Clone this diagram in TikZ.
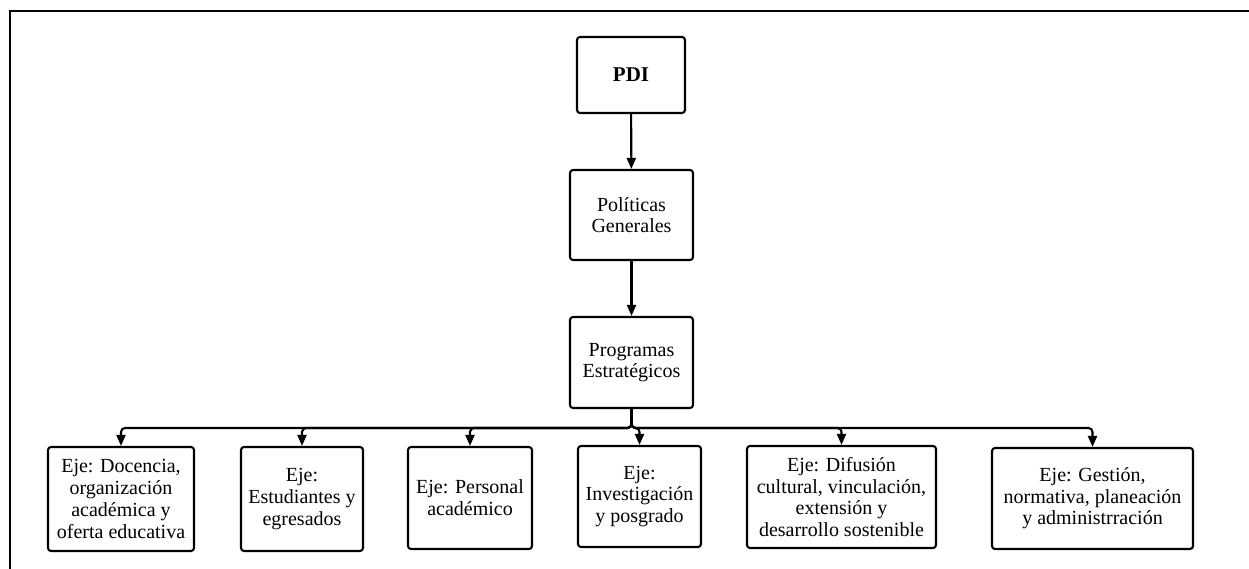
\documentclass[tikz,border=0pt]{standalone}
\usepackage{fontspec}
\setmainfont{Liberation Serif}
\usetikzlibrary{arrows.meta}
\tikzset{
  box/.style={draw, line width=2.1pt, rounded corners=3pt, align=center,
    inner sep=2pt, font=\fontsize{20}{21.7}\selectfont},
  conn/.style={line width=2.1pt, rounded corners=4pt,
    -{Triangle[width=9pt,length=11pt]}},
  frame/.style={line width=2pt}
}
\begin{document}
\begin{tikzpicture}[x=1pt,y=-1pt]
\useasboundingbox (0,0) rectangle (1249,569);
% page frame (top and left edges)
\draw[frame] (1249,11.5) -| (10,569);

% main chain
\node[box, minimum width=108pt, minimum height=76pt] (pdi) at (631,75)
  {\fontsize{21}{24}\selectfont\textbf{PDI}};
\node[box, minimum width=123pt, minimum height=90pt] (pol) at (631.5,215)
  {Políticas\\Generales};
\node[box, minimum width=123pt, minimum height=91pt] (prog) at (631.5,362.5)
  {Programas\\Estratégicos};

% axes
\node[box, minimum width=146pt, minimum height=104pt] (e1) at (121,499)
  {Eje: Docencia,\\organización\\académica y\\oferta educativa};
\node[box, minimum width=122pt, minimum height=104pt] (e2) at (302,499)
  {Eje:\\Estudiantes y\\egresados};
\node[box, minimum width=124pt, minimum height=102pt] (e3) at (470,498)
  {Eje: Personal\\académico};
\node[box, minimum width=123pt, minimum height=101pt] (e4) at (639.5,496.5)
  {Eje:\\Investigación\\y posgrado};
\node[box, minimum width=189pt, minimum height=102pt] (e5) at (841.5,497)
  {Eje: Difusión\\cultural, vinculación,\\extensión y\\desarrollo sostenible};
\node[box, minimum width=201pt, minimum height=101pt] (e6) at (1092.5,498.5)
  {Eje: Gestión,\\normativa, planeación\\y administrración};

\coordinate (bus) at (631.5,428);

\draw[conn] (pdi) -- (pol);
\draw[conn] (pol) -- (prog);
\foreach \n in {e1,e2,e3,e4,e5,e6}
  \draw[conn] (prog) -- (bus) -| (\n);
\end{tikzpicture}
\end{document}
